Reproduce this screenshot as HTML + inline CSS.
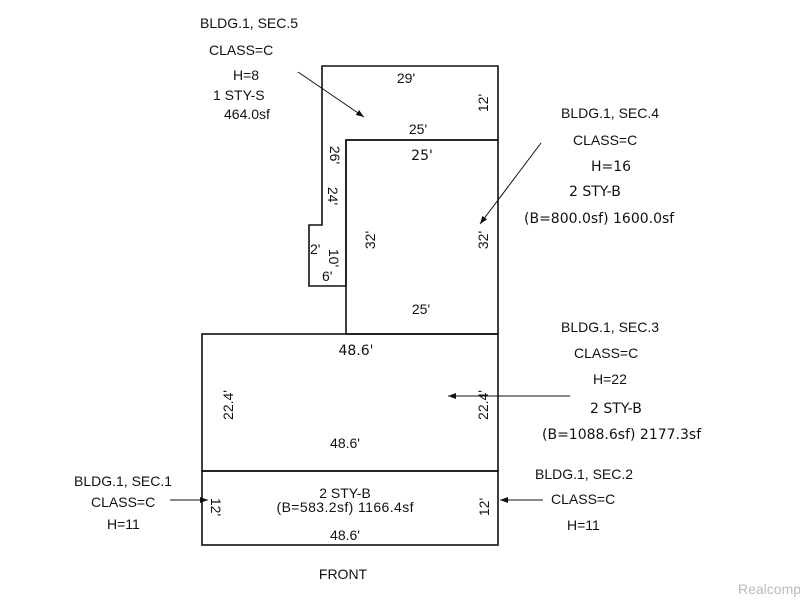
<!DOCTYPE html>
<html><head><style>body{margin:0;background:#fff}svg{display:block}text{font-family:"Liberation Sans",Arial,sans-serif;fill:#111}.d{font-family:"DejaVu Sans",sans-serif}</style></head>
<body>
<svg width="800" height="600" viewBox="0 0 800 600">
<defs><marker id="a" markerWidth="8" markerHeight="6" refX="8" refY="3" orient="auto"><path d="M0,0 L8,3 L0,6 z" fill="#111"/></marker></defs>
<g fill="none" stroke="#111" stroke-width="1.6">
<path d="M322,66 H498 V140 H346 V286 H309 V225 H322 Z"/>
<rect x="346" y="140" width="152" height="194"/>
<rect x="202" y="334" width="296" height="137"/>
<rect x="202" y="471" width="296" height="74"/>
</g>
<g stroke="#111" stroke-width="1">
<line x1="298" y1="72" x2="364" y2="117" marker-end="url(#a)"/>
<line x1="541" y1="143" x2="480" y2="224" marker-end="url(#a)"/>
<line x1="570" y1="396" x2="448" y2="396" marker-end="url(#a)"/>
<line x1="170" y1="500" x2="208" y2="500" marker-end="url(#a)"/>
<line x1="543" y1="500" x2="500" y2="500" marker-end="url(#a)"/>
</g>
<g font-size="14">
<text x="200" y="28">BLDG.1, SEC.5</text>
<text x="209" y="55">CLASS=C</text>
<text x="233" y="80">H=8</text>
<text x="213" y="100">1 STY-S</text>
<text x="224" y="119">464.0sf</text>
<text x="406" y="83" text-anchor="middle">29'</text>
<text x="418" y="134" text-anchor="middle">25'</text>
<text x="561" y="118">BLDG.1, SEC.4</text>
<text x="573" y="145">CLASS=C</text>
<text x="421" y="314" text-anchor="middle">25'</text>
<text x="561" y="332">BLDG.1, SEC.3</text>
<text x="574" y="358">CLASS=C</text>
<text x="593" y="384">H=22</text>
<text x="345" y="448" text-anchor="middle">48.6'</text>
<text x="74" y="486">BLDG.1, SEC.1</text>
<text x="91" y="507">CLASS=C</text>
<text x="107" y="529">H=11</text>
<text x="535" y="479">BLDG.1, SEC.2</text>
<text x="551" y="504">CLASS=C</text>
<text x="567" y="530">H=11</text>
<text x="345" y="498" text-anchor="middle">2 STY-B</text>
<text x="345" y="512" text-anchor="middle" textLength="137">(B=583.2sf) 1166.4sf</text>
<text x="345" y="540" text-anchor="middle">48.6'</text>
<text x="343" y="579" text-anchor="middle">FRONT</text>
<text x="310" y="254">2'</text>
<text x="322" y="281">6'</text>
</g>
<g font-size="14" class="d">
<text x="591" y="171" class="d">H=16</text>
<text x="569" y="196" class="d">2 STY-B</text>
<text x="524" y="223" class="d">(B=800.0sf) 1600.0sf</text>
<text x="590" y="413" class="d">2 STY-B</text>
<text x="542" y="439" class="d">(B=1088.6sf) 2177.3sf</text>
<text x="422" y="160" text-anchor="middle" class="d">25'</text>
<text x="356" y="355" text-anchor="middle" class="d">48.6'</text>
</g>
<g font-size="14" text-anchor="middle">
<text transform="translate(488,103) rotate(-90)">12'</text>
<text transform="translate(330,155) rotate(90)">26'</text>
<text transform="translate(328,196) rotate(90)">24'</text>
<text transform="translate(329,258) rotate(90)">10'</text>
<text transform="translate(375,240) rotate(-90)">32'</text>
<text transform="translate(488,240) rotate(-90)">32'</text>
<text transform="translate(233,405) rotate(-90)">22.4'</text>
<text transform="translate(488,405) rotate(-90)">22.4'</text>
<text transform="translate(211,507) rotate(90)">12'</text>
<text transform="translate(489,507) rotate(-90)">12'</text>
</g>
<text x="738" y="594" font-size="14" style="fill:#bbb">Realcomp</text>
</svg>
</body></html>
